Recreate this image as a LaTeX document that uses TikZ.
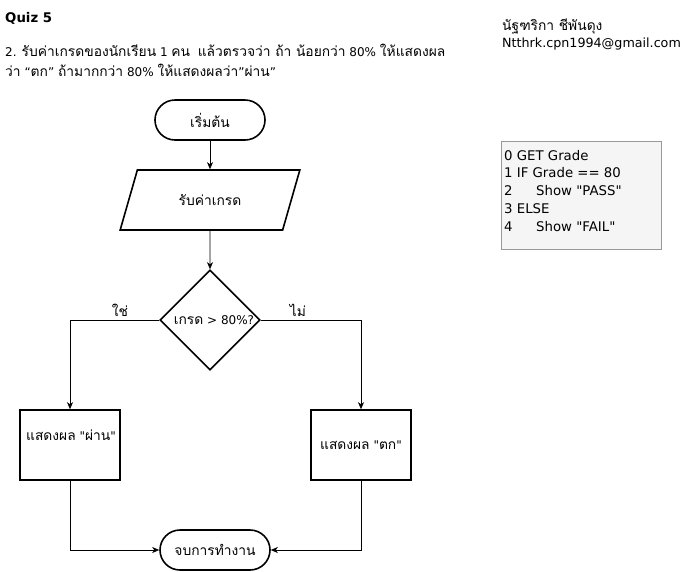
\documentclass[tikz,border=0pt]{standalone}
\usepackage{fontspec}
\setmainfont[Ligatures=TeXOff]{DejaVu Sans}
\newfontfamily\thaifont[Script=Thai,Scale=1.15,Ligatures=TeXOff]{Loma}
\newcommand\T[1]{{\thaifont #1}}
\usetikzlibrary{arrows.meta,shapes.geometric}
\definecolor{codebg}{HTML}{F5F5F5}
\definecolor{codeline}{HTML}{999999}
\tikzset{
  base/.style={font=\fontsize{12}{14}\selectfont, inner sep=0pt},
  term/.style={base, draw, line width=1.6pt, rounded corners=20pt, minimum width=110pt, minimum height=40pt},
  io/.style={base, draw, line width=1.6pt, trapezium, trapezium left angle=56.3, trapezium right angle=123.7, minimum width=180pt, minimum height=60pt, trapezium stretches=true},
  dec/.style={base, draw, line width=1.6pt, diamond, minimum width=100pt, minimum height=100pt, aspect=1},
  proc/.style={base, draw, line width=1.6pt, minimum width=100pt, minimum height=70pt},
  txt/.style={base, anchor=west},
  conn/.style={line width=0.8pt, -{Stealth[length=7pt,width=6pt,inset=2pt]}},
  code/.style={font=\fontsize{13.3}{15}\selectfont, inner sep=0pt, anchor=west}
}
\begin{document}
\begin{tikzpicture}[x=1pt,y=-1pt]
\useasboundingbox (0,0) rectangle (687,571);
% header texts
\node[txt, font=\fontsize{13.3}{15}\selectfont\bfseries] (title) at (5,18) {Quiz 5};
\node[txt] (q1) at (5,50) {2. \T{รับค่าเกรดของนักเรียน} 1 \T{คน}\ \ \T{แล้วตรวจว่า ถ้า น้อยกว่า} 80\% \T{ให้แสดงผล}};
\node[txt] (q2) at (5,70) {\T{ว่า} “\T{ตก}” \T{ถ้ามากกว่า} 80\% \T{ให้แสดงผลว่า}”\T{ผ่าน}”};
\node[txt] (name) at (502,26) {\T{นัฐฑริกา ชีพันดุง}};
\node[txt, font=\fontsize{12.7}{15}\selectfont] (mail) at (502,44) {Ntthrk.cpn1994@gmail.com};
% code box
\node[draw=codeline, fill=codebg, line width=0.8pt, minimum width=160pt, minimum height=108pt, inner sep=0pt] (codebox) at (581,195) {};
\node[code] (c0) at (504,156) {0 GET Grade};
\node[code] (c1) at (504,173) {1 IF Grade == 80};
\node[code] (c2) at (504,191) {2};
\node[code] (c2b) at (536,191) {Show "PASS"};
\node[code] (c3) at (504,209) {3 ELSE};
\node[code] (c4) at (504,227) {4};
\node[code] (c4b) at (536,227) {Show "FAIL"};
% flowchart
\node[term] (start) at (210,120) {\T{เริ่มต้น}};
\node[io] (input) at (210,200) {\T{รับค่าเกรด}};
\node[dec] (cond) at (210,320) {};
\node[base] (condtxt) at (214,320) {\T{เกรด} > 80\%?};
\node[proc] (pass) at (70,445) {};
\node[base] (passtxt) at (71,435) {\T{แสดงผล} "\T{ผ่าน}"};
\node[proc] (fail) at (361,445) {\T{แสดงผล} "\T{ตก}"};
\node[term] (stop) at (215,550) {\T{จบการทำงาน}};
\node[base] (yes) at (120,310) {\T{ใช่}};
\node[base] (no) at (298,310) {\T{ไม่}};
% connectors
\draw[conn] (start) -- (input);
\draw[conn] (input) -- (cond);
\draw[conn] (cond.west) -| (pass.north);
\draw[conn] (cond.east) -| (fail.north);
\draw[conn] (pass.south) |- (stop.west);
\draw[conn] (fail.south) |- (stop.east);
\end{tikzpicture}
\end{document}
